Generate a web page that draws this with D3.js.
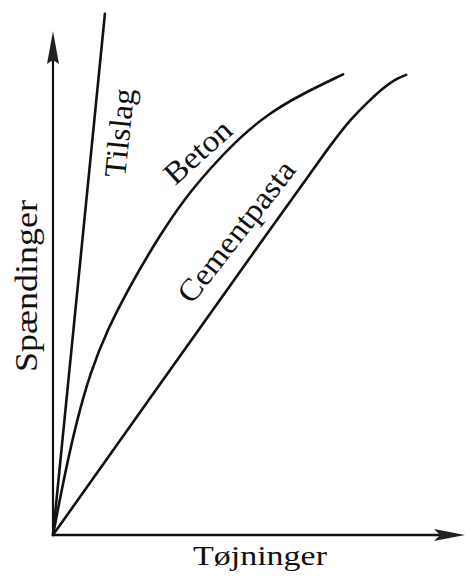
<!DOCTYPE html>
<html>
<head>
<meta charset="utf-8">
<title>Spændinger - Tøjninger</title>
<script src="https://cdn.jsdelivr.net/npm/d3@7"></script>
<style>
body{
	margin: 0;
	background: #fff;
}
.curve{
	fill: none;
	stroke: #111;
	stroke-width: 2.6;
	stroke-linecap: round;
}
.label{
	fill: #111;
}
</style>
</head>
<body>
<svg class="chart"></svg>

<script>

//data (strain / stress, arbitrary units)
var tilslagStrain = [0, 12.6];
var tilslagStress = [0, 103.4];

var betonStrain = [0, 2.9, 5.8, 9.0, 13.1, 18.7, 26.0, 32.0, 38.1, 45.4, 52.7, 60.0, 70.4];
var betonStress = [0, 12.3, 22.8, 32.1, 40.6, 49.5, 59.6, 66.8, 72.7, 79.0, 83.8, 87.3, 91.4];

var cementStrain = [0, 23.5, 47.8, 62.4, 68.0, 72.1, 76.2, 80.1, 83.5, 85.7];
var cementStress = [0, 27.1, 55.0, 71.7, 78.0, 82.2, 85.7, 88.6, 90.5, 91.3];

var curveNames = ["Tilslag", "Beton", "Cementpasta"];
var xTitle = "Tøjninger";
var yTitle = "Spændinger";

var serif = "'Liberation Serif', 'Times New Roman', Tinos, serif";

function toPoints(xs, ys){
	return xs.map(function(d, i){ return {x: d, y: ys[i]}; });
}

var series = [
	{name: curveNames[0], points: toPoints(tilslagStrain, tilslagStress), curve: d3.curveLinear},
	{name: curveNames[1], points: toPoints(betonStrain, betonStress), curve: d3.curveBasis},
	{name: curveNames[2], points: toPoints(cementStrain, cementStress), curve: d3.curveMonotoneX}
];

var width = 466;
var height = 576;

var svg = d3.select(".chart")
			.attr("width", width)
			.attr("height", height);

var xChart = d3.scaleLinear()
				.domain([0, 100])
				.range([53, 465]);

var yChart = d3.scaleLinear()
				.domain([0, 100])
				.range([535, 31]);

var xAxis = d3.axisBottom(xChart).tickValues([]).tickSizeOuter(0);
var yAxis = d3.axisLeft(yChart).tickValues([]).tickSizeOuter(0);

svg.append("g")
	.attr("class", "xAxis")
	.attr("transform", "translate(0," + yChart(0) + ")")
	.call(xAxis)
	.select(".domain")
		.attr("d", "M" + xChart(0) + ",0H" + (xChart(100) - 20))
		.attr("stroke", "#111")
		.attr("stroke-width", 2.6);

svg.append("g")
	.attr("class", "y axis")
	.attr("transform", "translate(" + xChart(0) + ",0)")
	.call(yAxis)
	.select(".domain")
		.attr("d", "M0," + yChart(0) + "V" + (yChart(100) + 20))
		.attr("stroke", "#111")
		.attr("stroke-width", 2.2);

// arrow heads at the ends of the axes
svg.append("path")
	.attr("transform", "translate(" + xChart(0) + "," + yChart(100) + ")")
	.attr("d", "M0,0L6,33L0,29L-6,33Z")
	.attr("fill", "#222");

svg.append("path")
	.attr("transform", "translate(" + xChart(100) + "," + yChart(0) + ")")
	.attr("d", "M0,0L-31,-6L-25,0L-31,6Z")
	.attr("fill", "#222");

var line = d3.line()
			.x(function(d){ return xChart(d.x); })
			.y(function(d){ return yChart(d.y); });

svg.selectAll(".curve")
	.data(series)
	.enter()
	.append("path")
	.attr("class", "curve")
	.attr("d", function(d){ return line.curve(d.curve)(d.points); });

// curve labels, placed along each curve
var curveLabels = [
	{text: curveNames[0], x: 17.5, y: 70.8, angle: -84, len: 89},
	{text: curveNames[1], x: 29.6, y: 69.2, angle: -42, len: 80},
	{text: curveNames[2], x: 33.7, y: 45.6, angle: -52, len: 171}
];

svg.selectAll(".curveLabel")
	.data(curveLabels)
	.enter()
	.append("text")
	.attr("class", "label curveLabel")
	.attr("font-family", serif)
	.attr("font-size", 31)
	.attr("textLength", function(d){ return d.len; })
	.attr("lengthAdjust", "spacingAndGlyphs")
	.attr("transform", function(d){
		return "translate(" + xChart(d.x) + "," + yChart(d.y) + ") rotate(" + d.angle + ")";
	})
	.text(function(d){ return d.text; });

svg.append("text")
	.attr("class", "label")
	.attr("font-family", serif)
	.attr("font-size", 28)
	.attr("textLength", 134)
	.attr("lengthAdjust", "spacingAndGlyphs")
	.attr("x", xChart(0) + 140)
	.attr("y", yChart(0) + 30)
	.text(xTitle);

svg.append("text")
	.attr("class", "label")
	.attr("font-family", serif)
	.attr("font-size", 31)
	.attr("textLength", 172)
	.attr("lengthAdjust", "spacingAndGlyphs")
	.attr("transform", "translate(" + (xChart(0) - 16) + "," + (yChart(0) - 163) + ") rotate(-90)")
	.text(yTitle);

</script>
</body>
</html>
